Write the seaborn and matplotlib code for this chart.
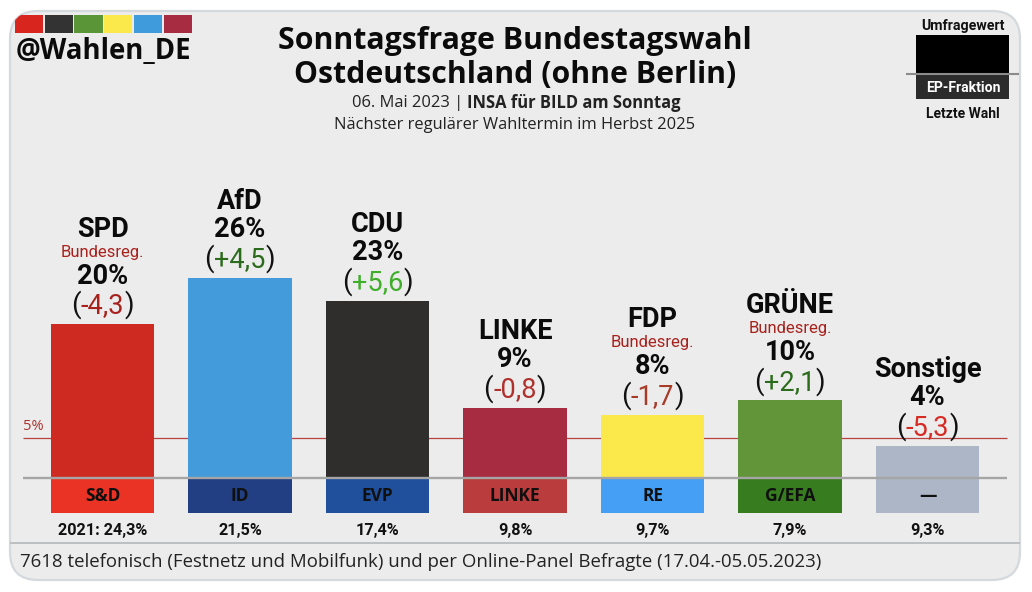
import matplotlib
matplotlib.use("Agg")
import matplotlib.pyplot as plt
from matplotlib.patches import FancyBboxPatch, Rectangle
import pandas as pd
import seaborn as sns

parties = ["SPD", "AfD", "CDU", "LINKE", "FDP", "GRÜNE", "Sonstige"]
values = [20.0, 26.0, 23.0, 9.1, 8.2, 10.1, 4.2]
pct_labels = ["20%", "26%", "23%", "9%", "8%", "10%", "4%"]
changes = ["-4,3", "+4,5", "+5,6", "-0,8", "-1,7", "+2,1", "-5,3"]
change_colors = ["#a8221d", "#2a6b1c", "#3fae29", "#b0302c", "#a83a28", "#2a6b1c", "#d62a22"]
bar_colors = ["#cf2a22", "#439bdc", "#2f2e2d", "#a72c42", "#fbe94c", "#62953a", "#adb6c6"]
coalition = [True, False, False, False, True, True, False]
ep_groups = ["S&D", "ID", "EVP", "LINKE", "RE", "G/EFA", "—"]
ep_colors = ["#ea3324", "#213f82", "#20509c", "#bb3c3c", "#45a0f5", "#377d1f", "#adb6c6"]
ep_depth = [-4.55] * 7
last_vote = ["2021: 24,3%", "21,5%", "17,4%", "9,8%", "9,7%", "7,9%", "9,3%"]
threshold = 5.2
strip_colors = ["#d8261f", "#333333", "#5a9638", "#fbe94c", "#3f9bdc", "#a72c42"]

title_lines = ["Sonntagsfrage Bundestagswahl", "Ostdeutschland (ohne Berlin)"]
footer = "7618 telefonisch (Festnetz und Mobilfunk) und per Online-Panel Befragte (17.04.-05.05.2023)"

sns.set_theme(style="white")
plt.rcParams["font.family"] = ["Roboto", "DejaVu Sans"]

fig = plt.figure(figsize=(10.32, 5.92), dpi=100, facecolor="white")

# page layer in pixel coordinates
bg = fig.add_axes([0, 0, 1, 1], zorder=0)
bg.set_xlim(0, 1032); bg.set_ylim(592, 0); bg.axis("off")
card = FancyBboxPatch((10, 11), 1010, 569, boxstyle="round,pad=0,rounding_size=28",
                      fc="#ececec", ec="#d3d9dd", lw=1.6)
bg.add_patch(card)
for i, c in enumerate(strip_colors):
    r = Rectangle((15 + i * 29.7, 15), 28.3, 18, fc=c, ec="none")
    bg.add_patch(r)
    r.set_clip_path(card)
bg.text(16, 52, "@Wahlen_DE", fontsize=19.8, fontweight="bold", family="Open Sans", va="center", color="#0b0b0b")
bg.text(515, 41, title_lines[0], fontsize=21.8, fontweight="bold", family="Open Sans", ha="center", va="center", color="#0b0b0b")
bg.text(515, 75, title_lines[1], fontsize=21.8, fontweight="bold", family="Open Sans", ha="center", va="center", color="#0b0b0b")
bg.text(467, 103, "06. Mai 2023 | ", fontsize=11.9, family="Open Sans", ha="right", va="center", color="#222222")
bg.text(467, 103, "INSA für BILD am Sonntag", fontsize=11.9, fontweight="bold", family="Open Sans", ha="left", va="center", color="#222222")
bg.text(515, 125, "Nächster regulärer Wahltermin im Herbst 2025", fontsize=11.9, family="Open Sans", ha="center", va="center", color="#222222")
bg.plot([10, 1020], [543, 543], color="#b4b8ba", lw=1.2, solid_capstyle="butt")
bg.text(20, 562, footer, fontsize=13.4, family="Open Sans", va="center", color="#222222")

# legend key
bg.add_patch(Rectangle((916, 35), 93, 39, fc="black", ec="none"))
bg.add_patch(Rectangle((916, 74), 93, 25, fc="#2b2b2b", ec="none"))
bg.plot([906, 1019], [73.5, 73.5], color="#8b8b8b", lw=1.5, solid_capstyle="butt")
bg.text(963, 26, "Umfragewert", fontsize=10.2, fontweight="bold", ha="center", va="center", color="#111111")
bg.text(963, 87.5, "EP-Fraktion", fontsize=10.1, fontweight="bold", ha="center", va="center", color="white")
bg.text(963, 114, "Letzte Wahl", fontsize=10, fontweight="bold", ha="center", va="center", color="#111111")

# chart layer
ax = fig.add_axes([0, 0, 1, 1], zorder=1)
ax.patch.set_alpha(0)
df = pd.DataFrame({"party": parties, "value": values, "ep": ep_depth})
ax.hlines(threshold, -0.578, 6.58, color="#b9413f", lw=0.9, zorder=0.5)
sns.barplot(data=df, x="party", y="value", hue="party", order=parties, hue_order=parties,
            palette=bar_colors, width=0.75, dodge=False, legend=False, saturation=1, linewidth=0, ax=ax, zorder=2)
sns.barplot(data=df, x="party", y="ep", hue="party", order=parties, hue_order=parties,
            palette=ep_colors, width=0.75, dodge=False, legend=False, saturation=1, linewidth=0, ax=ax, zorder=2)
ax.hlines(0, -0.578, 6.58, color="#a5a5a5", lw=1.7, zorder=3)
ax.set_xlim(-0.7455, 6.76)
ax.set_ylim(-14.805, 62.08)
ax.axis("off")

ax.text(-0.578, threshold + 0.55, "5%", fontsize=10.5, color="#a8322e", va="bottom", ha="left", family="Open Sans")

fig.canvas.draw()
renderer = fig.canvas.get_renderer()
kw = dict(xycoords="data", textcoords="offset pixels", ha="center", va="center", zorder=5)
for i, p in enumerate(parties):
    v = values[i]
    ax.annotate(pct_labels[i], (i, v), xytext=(0, 48), fontsize=19.5, fontweight="bold", color="#0b0b0b", **kw)
    name_off = 95 if coalition[i] else 76
    ax.annotate(p, (i, v), xytext=(0, name_off), fontsize=19.5, fontweight="bold", color="#0b0b0b", **kw)
    if coalition[i]:
        ax.annotate("Bundesreg.", (i, v), xytext=(0, 72), fontsize=12, color="#a8221d", **kw)
    num = ax.annotate(changes[i], (i, v), xytext=(0, 18), fontsize=19.5, color=change_colors[i], **kw)
    w = num.get_window_extent(renderer).width
    ax.annotate("(", (i, v), xytext=(-w / 2 - 5, 19), fontsize=20, color="#111111", **kw)
    ax.annotate(")", (i, v), xytext=(w / 2 + 5, 19), fontsize=20, color="#111111", **kw)
    ax.annotate(ep_groups[i], (i, ep_depth[i]), xytext=(0, 17), fontsize=12.5, fontweight="bold", family="Open Sans", color="#101010", **kw)
    ax.annotate(last_vote[i], (i, ep_depth[i]), xytext=(0, -17), fontsize=11.7, fontweight="bold", color="#111111", **kw)

fig.savefig("out.png", dpi=100, facecolor="white")
